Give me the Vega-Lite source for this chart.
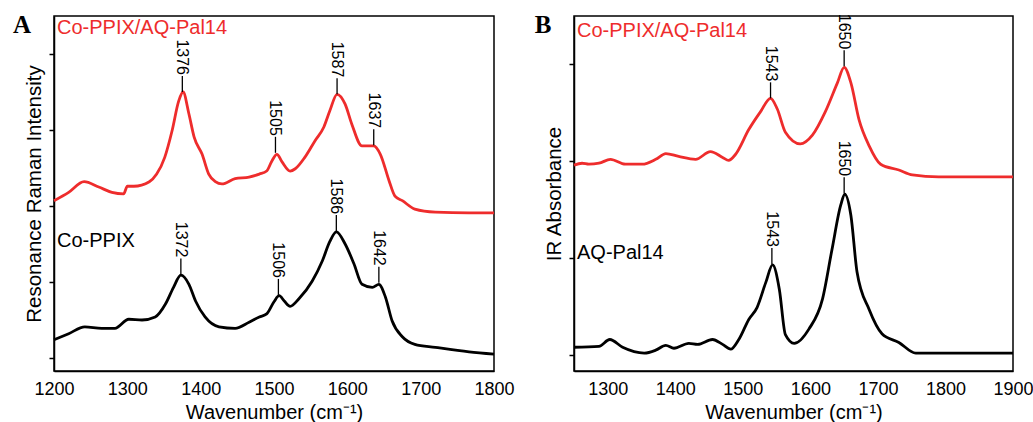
{
  "$schema": "https://vega.github.io/schema/vega-lite/v6.json",
  "background": "white",
  "padding": {"left": 12, "top": 12, "right": 5, "bottom": 5},
  "spacing": 80,
  "bounds": "flush",
  "config": {
    "font": "Liberation Sans",
    "view": {"stroke": "black", "strokeWidth": 1.5},
    "axis": {"domainColor": "black", "domainWidth": 1.5, "tickColor": "black", "tickWidth": 1.5, "grid": false, "labelColor": "black", "titleColor": "black", "titleFontWeight": "normal", "labelFont": "Liberation Sans", "titleFont": "Liberation Sans", "labelFlush": false, "labelOverlap": false}
  },
  "datasets": {
    "raman": [
      {"w":1200,"v":2.07,"s":"Co-PPIX/AQ-Pal14"},{"w":1220,"v":2.18,"s":"Co-PPIX/AQ-Pal14"},{"w":1241,"v":2.32,"s":"Co-PPIX/AQ-Pal14"},{"w":1261,"v":2.25,"s":"Co-PPIX/AQ-Pal14"},{"w":1279,"v":2.18,"s":"Co-PPIX/AQ-Pal14"},{"w":1295,"v":2.16,"s":"Co-PPIX/AQ-Pal14"},{"w":1300,"v":2.26,"s":"Co-PPIX/AQ-Pal14"},{"w":1309,"v":2.26,"s":"Co-PPIX/AQ-Pal14"},{"w":1330,"v":2.32,"s":"Co-PPIX/AQ-Pal14"},{"w":1340,"v":2.42,"s":"Co-PPIX/AQ-Pal14"},{"w":1351,"v":2.64,"s":"Co-PPIX/AQ-Pal14"},{"w":1361,"v":2.99,"s":"Co-PPIX/AQ-Pal14"},{"w":1370,"v":3.38,"s":"Co-PPIX/AQ-Pal14"},{"w":1376,"v":3.50,"s":"Co-PPIX/AQ-Pal14"},{"w":1384,"v":3.21,"s":"Co-PPIX/AQ-Pal14"},{"w":1391,"v":2.91,"s":"Co-PPIX/AQ-Pal14"},{"w":1402,"v":2.68,"s":"Co-PPIX/AQ-Pal14"},{"w":1411,"v":2.42,"s":"Co-PPIX/AQ-Pal14"},{"w":1420,"v":2.32,"s":"Co-PPIX/AQ-Pal14"},{"w":1429,"v":2.29,"s":"Co-PPIX/AQ-Pal14"},{"w":1447,"v":2.36,"s":"Co-PPIX/AQ-Pal14"},{"w":1466,"v":2.38,"s":"Co-PPIX/AQ-Pal14"},{"w":1480,"v":2.42,"s":"Co-PPIX/AQ-Pal14"},{"w":1490,"v":2.46,"s":"Co-PPIX/AQ-Pal14"},{"w":1497,"v":2.59,"s":"Co-PPIX/AQ-Pal14"},{"w":1504,"v":2.68,"s":"Co-PPIX/AQ-Pal14"},{"w":1511,"v":2.58,"s":"Co-PPIX/AQ-Pal14"},{"w":1522,"v":2.46,"s":"Co-PPIX/AQ-Pal14"},{"w":1529,"v":2.49,"s":"Co-PPIX/AQ-Pal14"},{"w":1542,"v":2.64,"s":"Co-PPIX/AQ-Pal14"},{"w":1556,"v":2.86,"s":"Co-PPIX/AQ-Pal14"},{"w":1568,"v":3.04,"s":"Co-PPIX/AQ-Pal14"},{"w":1576,"v":3.25,"s":"Co-PPIX/AQ-Pal14"},{"w":1586,"v":3.47,"s":"Co-PPIX/AQ-Pal14"},{"w":1597,"v":3.34,"s":"Co-PPIX/AQ-Pal14"},{"w":1606,"v":3.08,"s":"Co-PPIX/AQ-Pal14"},{"w":1620,"v":2.79,"s":"Co-PPIX/AQ-Pal14"},{"w":1636,"v":2.79,"s":"Co-PPIX/AQ-Pal14"},{"w":1645,"v":2.68,"s":"Co-PPIX/AQ-Pal14"},{"w":1657,"v":2.33,"s":"Co-PPIX/AQ-Pal14"},{"w":1665,"v":2.13,"s":"Co-PPIX/AQ-Pal14"},{"w":1675,"v":2.07,"s":"Co-PPIX/AQ-Pal14"},{"w":1692,"v":1.96,"s":"Co-PPIX/AQ-Pal14"},{"w":1720,"v":1.92,"s":"Co-PPIX/AQ-Pal14"},{"w":1766,"v":1.91,"s":"Co-PPIX/AQ-Pal14"},{"w":1800,"v":1.91,"s":"Co-PPIX/AQ-Pal14"},
      {"w":1200,"v":0.24,"s":"Co-PPIX"},{"w":1220,"v":0.32,"s":"Co-PPIX"},{"w":1242,"v":0.41,"s":"Co-PPIX"},{"w":1265,"v":0.39,"s":"Co-PPIX"},{"w":1283,"v":0.39,"s":"Co-PPIX"},{"w":1302,"v":0.51,"s":"Co-PPIX"},{"w":1320,"v":0.50,"s":"Co-PPIX"},{"w":1338,"v":0.54,"s":"Co-PPIX"},{"w":1352,"v":0.71,"s":"Co-PPIX"},{"w":1363,"v":0.93,"s":"Co-PPIX"},{"w":1373,"v":1.09,"s":"Co-PPIX"},{"w":1384,"v":0.97,"s":"Co-PPIX"},{"w":1393,"v":0.75,"s":"Co-PPIX"},{"w":1406,"v":0.54,"s":"Co-PPIX"},{"w":1425,"v":0.41,"s":"Co-PPIX"},{"w":1447,"v":0.39,"s":"Co-PPIX"},{"w":1466,"v":0.47,"s":"Co-PPIX"},{"w":1480,"v":0.54,"s":"Co-PPIX"},{"w":1490,"v":0.58,"s":"Co-PPIX"},{"w":1500,"v":0.74,"s":"Co-PPIX"},{"w":1507,"v":0.82,"s":"Co-PPIX"},{"w":1514,"v":0.75,"s":"Co-PPIX"},{"w":1522,"v":0.68,"s":"Co-PPIX"},{"w":1534,"v":0.78,"s":"Co-PPIX"},{"w":1552,"v":1.01,"s":"Co-PPIX"},{"w":1566,"v":1.28,"s":"Co-PPIX"},{"w":1576,"v":1.53,"s":"Co-PPIX"},{"w":1585,"v":1.66,"s":"Co-PPIX"},{"w":1597,"v":1.50,"s":"Co-PPIX"},{"w":1609,"v":1.24,"s":"Co-PPIX"},{"w":1620,"v":0.97,"s":"Co-PPIX"},{"w":1634,"v":0.93,"s":"Co-PPIX"},{"w":1643,"v":0.97,"s":"Co-PPIX"},{"w":1652,"v":0.80,"s":"Co-PPIX"},{"w":1661,"v":0.49,"s":"Co-PPIX"},{"w":1675,"v":0.28,"s":"Co-PPIX"},{"w":1692,"v":0.18,"s":"Co-PPIX"},{"w":1720,"v":0.14,"s":"Co-PPIX"},{"w":1766,"v":0.08,"s":"Co-PPIX"},{"w":1800,"v":0.05,"s":"Co-PPIX"}
    ],
    "ir": [
      {"w":1250,"v":1.96,"s":"Co-PPIX/AQ-Pal14"},{"w":1262,"v":1.98,"s":"Co-PPIX/AQ-Pal14"},{"w":1272,"v":1.97,"s":"Co-PPIX/AQ-Pal14"},{"w":1287,"v":1.98,"s":"Co-PPIX/AQ-Pal14"},{"w":1304,"v":2.02,"s":"Co-PPIX/AQ-Pal14"},{"w":1326,"v":1.97,"s":"Co-PPIX/AQ-Pal14"},{"w":1351,"v":1.97,"s":"Co-PPIX/AQ-Pal14"},{"w":1371,"v":2.02,"s":"Co-PPIX/AQ-Pal14"},{"w":1386,"v":2.08,"s":"Co-PPIX/AQ-Pal14"},{"w":1405,"v":2.05,"s":"Co-PPIX/AQ-Pal14"},{"w":1430,"v":2.02,"s":"Co-PPIX/AQ-Pal14"},{"w":1452,"v":2.10,"s":"Co-PPIX/AQ-Pal14"},{"w":1470,"v":2.04,"s":"Co-PPIX/AQ-Pal14"},{"w":1479,"v":2.01,"s":"Co-PPIX/AQ-Pal14"},{"w":1489,"v":2.07,"s":"Co-PPIX/AQ-Pal14"},{"w":1509,"v":2.33,"s":"Co-PPIX/AQ-Pal14"},{"w":1526,"v":2.51,"s":"Co-PPIX/AQ-Pal14"},{"w":1541,"v":2.65,"s":"Co-PPIX/AQ-Pal14"},{"w":1551,"v":2.54,"s":"Co-PPIX/AQ-Pal14"},{"w":1563,"v":2.30,"s":"Co-PPIX/AQ-Pal14"},{"w":1585,"v":2.18,"s":"Co-PPIX/AQ-Pal14"},{"w":1603,"v":2.27,"s":"Co-PPIX/AQ-Pal14"},{"w":1622,"v":2.51,"s":"Co-PPIX/AQ-Pal14"},{"w":1640,"v":2.81,"s":"Co-PPIX/AQ-Pal14"},{"w":1650,"v":2.97,"s":"Co-PPIX/AQ-Pal14"},{"w":1660,"v":2.81,"s":"Co-PPIX/AQ-Pal14"},{"w":1672,"v":2.43,"s":"Co-PPIX/AQ-Pal14"},{"w":1687,"v":2.16,"s":"Co-PPIX/AQ-Pal14"},{"w":1704,"v":1.97,"s":"Co-PPIX/AQ-Pal14"},{"w":1731,"v":1.91,"s":"Co-PPIX/AQ-Pal14"},{"w":1751,"v":1.86,"s":"Co-PPIX/AQ-Pal14"},{"w":1790,"v":1.84,"s":"Co-PPIX/AQ-Pal14"},{"w":1900,"v":1.84,"s":"Co-PPIX/AQ-Pal14"},
      {"w":1250,"v":0.08,"s":"AQ-Pal14"},{"w":1287,"v":0.09,"s":"AQ-Pal14"},{"w":1303,"v":0.16,"s":"AQ-Pal14"},{"w":1322,"v":0.08,"s":"AQ-Pal14"},{"w":1354,"v":0.02,"s":"AQ-Pal14"},{"w":1371,"v":0.05,"s":"AQ-Pal14"},{"w":1386,"v":0.10,"s":"AQ-Pal14"},{"w":1398,"v":0.07,"s":"AQ-Pal14"},{"w":1420,"v":0.12,"s":"AQ-Pal14"},{"w":1433,"v":0.11,"s":"AQ-Pal14"},{"w":1455,"v":0.16,"s":"AQ-Pal14"},{"w":1470,"v":0.11,"s":"AQ-Pal14"},{"w":1482,"v":0.06,"s":"AQ-Pal14"},{"w":1494,"v":0.16,"s":"AQ-Pal14"},{"w":1509,"v":0.37,"s":"AQ-Pal14"},{"w":1521,"v":0.49,"s":"AQ-Pal14"},{"w":1534,"v":0.75,"s":"AQ-Pal14"},{"w":1544,"v":0.93,"s":"AQ-Pal14"},{"w":1554,"v":0.68,"s":"AQ-Pal14"},{"w":1563,"v":0.21,"s":"AQ-Pal14"},{"w":1576,"v":0.12,"s":"AQ-Pal14"},{"w":1598,"v":0.27,"s":"AQ-Pal14"},{"w":1618,"v":0.58,"s":"AQ-Pal14"},{"w":1632,"v":1.09,"s":"AQ-Pal14"},{"w":1645,"v":1.55,"s":"AQ-Pal14"},{"w":1651,"v":1.66,"s":"AQ-Pal14"},{"w":1660,"v":1.44,"s":"AQ-Pal14"},{"w":1669,"v":0.86,"s":"AQ-Pal14"},{"w":1687,"v":0.47,"s":"AQ-Pal14"},{"w":1706,"v":0.22,"s":"AQ-Pal14"},{"w":1731,"v":0.13,"s":"AQ-Pal14"},{"w":1756,"v":0.02,"s":"AQ-Pal14"},{"w":1790,"v":0.02,"s":"AQ-Pal14"},{"w":1900,"v":0.02,"s":"AQ-Pal14"}
    ],
    "ramanPeaks": [
      {"w":1375,"v":3.50,"t":"1376"},{"w":1502,"v":2.70,"t":"1505"},{"w":1586,"v":3.47,"t":"1587"},{"w":1636,"v":2.80,"t":"1637"},
      {"w":1373,"v":1.10,"t":"1372"},{"w":1506,"v":0.83,"t":"1506"},{"w":1585,"v":1.67,"t":"1586"},{"w":1643,"v":0.99,"t":"1642"}
    ],
    "irPeaks": [
      {"w":1541,"v":2.65,"t":"1543"},{"w":1650,"v":2.98,"t":"1650"},{"w":1650,"v":1.67,"t":"1650"},{"w":1543,"v":0.94,"t":"1543"}
    ],
    "ramanLabels": [
      {"w":1200,"v":4.34,"s":"Co-PPIX/AQ-Pal14"},{"w":1200,"v":1.54,"s":"Co-PPIX"}
    ],
    "irLabels": [
      {"w":1250,"v":3.35,"s":"Co-PPIX/AQ-Pal14"},{"w":1250,"v":1.05,"s":"AQ-Pal14"}
    ],
    "panelA": [{"w":1200,"v":4.5,"t":"A"}],
    "panelB": [{"w":1250,"v":3.5,"t":"B"}]
  },
  "hconcat": [
    {
      "width": 440,
      "height": 355,
      "layer": [
        {
          "data": {"name": "raman"},
          "mark": {"type": "line", "strokeWidth": 2.8, "interpolate": "monotone"},
          "encoding": {
            "x": {"field": "w", "type": "quantitative", "scale": {"domain": [1200, 1800], "nice": false, "zero": false},
                  "axis": {"title": "Wavenumber (cm⁻¹)", "values": [1200,1300,1400,1500,1600,1700,1800], "ticks": false, "labelFontSize": 18, "titleFontSize": 20, "labelPadding": 9, "titlePadding": 4, "format": "d"}},
            "y": {"field": "v", "type": "quantitative", "scale": {"domain": [-0.171, 4.5], "nice": false, "zero": false},
                  "axis": {"title": "Resonance Raman Intensity", "values": [0,1,2,3,4], "labels": false, "tickSize": 5, "labelPadding": 0, "titleFontSize": 20.5, "titlePadding": 4}},
            "color": {"field": "s", "type": "nominal", "scale": {"domain": ["Co-PPIX/AQ-Pal14", "Co-PPIX", "AQ-Pal14"], "range": ["#ee2c2c", "#000000", "#000000"]}, "legend": null},
            "detail": {"field": "s"}
          }
        },
        {
          "data": {"name": "ramanPeaks"},
          "mark": {"type": "rule", "strokeWidth": 1.3, "color": "black", "y2Offset": -16},
          "encoding": {
            "x": {"field": "w", "type": "quantitative"},
            "y": {"field": "v", "type": "quantitative"},
            "y2": {"field": "v"}
          }
        },
        {
          "data": {"name": "ramanPeaks"},
          "mark": {"type": "text", "angle": 90, "align": "right", "baseline": "middle", "fontSize": 16, "color": "black", "yOffset": -17},
          "encoding": {
            "x": {"field": "w", "type": "quantitative"},
            "y": {"field": "v", "type": "quantitative"},
            "text": {"field": "t"}
          }
        },
        {
          "data": {"name": "ramanLabels"},
          "mark": {"type": "text", "align": "left", "baseline": "middle", "fontSize": 20, "dx": 3},
          "encoding": {
            "x": {"field": "w", "type": "quantitative"},
            "y": {"field": "v", "type": "quantitative"},
            "text": {"field": "s"},
            "color": {"field": "s", "type": "nominal", "legend": null}
          }
        },
        {
          "data": {"name": "panelA"},
          "mark": {"type": "text", "align": "center", "baseline": "top", "fontSize": 25, "fontWeight": "bold", "font": "Liberation Serif", "dx": -32, "dy": -3, "color": "black"},
          "encoding": {
            "x": {"field": "w", "type": "quantitative"},
            "y": {"field": "v", "type": "quantitative"},
            "text": {"field": "t"}
          }
        }
      ]
    },
    {
      "width": 439,
      "height": 355,
      "layer": [
        {
          "data": {"name": "ir"},
          "mark": {"type": "line", "strokeWidth": 2.8, "interpolate": "monotone"},
          "encoding": {
            "x": {"field": "w", "type": "quantitative", "scale": {"domain": [1250, 1900], "nice": false, "zero": false},
                  "axis": {"title": "Wavenumber (cm⁻¹)", "values": [1300,1400,1500,1600,1700,1800,1900], "ticks": false, "labelFontSize": 18, "titleFontSize": 20, "labelPadding": 9, "titlePadding": 4, "format": "d"}},
            "y": {"field": "v", "type": "quantitative", "scale": {"domain": [-0.165, 3.5], "nice": false, "zero": false},
                  "axis": {"title": "IR Absorbance", "values": [0,1,2,3], "labels": false, "tickSize": 5, "labelPadding": 0, "titleFontSize": 20.5, "titlePadding": 4}},
            "color": {"field": "s", "type": "nominal", "scale": {"domain": ["Co-PPIX/AQ-Pal14", "Co-PPIX", "AQ-Pal14"], "range": ["#ee2c2c", "#000000", "#000000"]}, "legend": null},
            "detail": {"field": "s"}
          }
        },
        {
          "data": {"name": "irPeaks"},
          "mark": {"type": "rule", "strokeWidth": 1.3, "color": "black", "y2Offset": -16},
          "encoding": {
            "x": {"field": "w", "type": "quantitative"},
            "y": {"field": "v", "type": "quantitative"},
            "y2": {"field": "v"}
          }
        },
        {
          "data": {"name": "irPeaks"},
          "mark": {"type": "text", "angle": 90, "align": "right", "baseline": "middle", "fontSize": 16, "color": "black", "yOffset": -17},
          "encoding": {
            "x": {"field": "w", "type": "quantitative"},
            "y": {"field": "v", "type": "quantitative"},
            "text": {"field": "t"}
          }
        },
        {
          "data": {"name": "irLabels"},
          "mark": {"type": "text", "align": "left", "baseline": "middle", "fontSize": 20, "dx": 3},
          "encoding": {
            "x": {"field": "w", "type": "quantitative"},
            "y": {"field": "v", "type": "quantitative"},
            "text": {"field": "s"},
            "color": {"field": "s", "type": "nominal", "legend": null}
          }
        },
        {
          "data": {"name": "panelB"},
          "mark": {"type": "text", "align": "center", "baseline": "top", "fontSize": 25, "fontWeight": "bold", "font": "Liberation Serif", "dx": -31, "dy": -3, "color": "black"},
          "encoding": {
            "x": {"field": "w", "type": "quantitative"},
            "y": {"field": "v", "type": "quantitative"},
            "text": {"field": "t"}
          }
        }
      ]
    }
  ]
}
